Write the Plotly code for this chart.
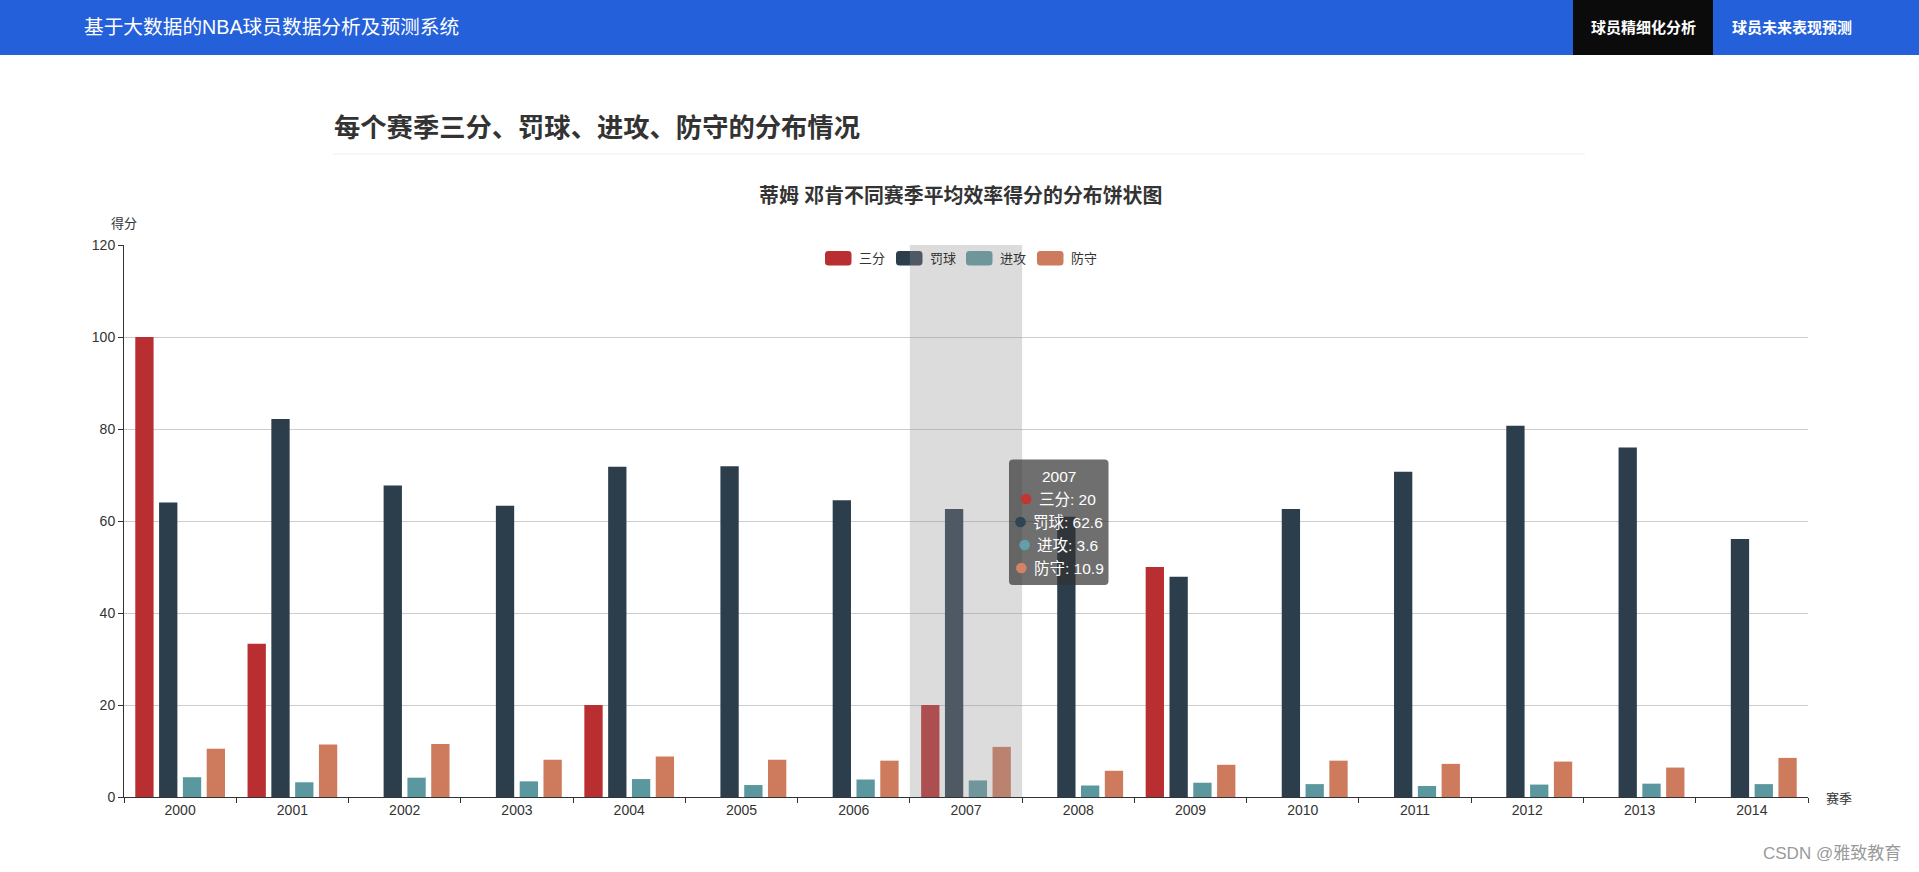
import plotly.graph_objects as go

# ---------------- data ----------------
seasons = [str(y) for y in range(2000, 2015)]
three_pt = [100, 33.3, 0, 0, 20, 0, 0, 20, 0, 50, 0, 0, 0, 0, 0]
free_throw = [64.0, 82.2, 67.7, 63.3, 71.8, 71.9, 64.5, 62.6, 60.9, 47.9, 62.6, 70.7, 80.7, 76.0, 56.1]
offense = [4.3, 3.2, 4.2, 3.4, 3.9, 2.6, 3.8, 3.6, 2.5, 3.1, 2.8, 2.4, 2.7, 2.9, 2.8]
defense = [10.5, 11.4, 11.5, 8.1, 8.8, 8.1, 7.9, 10.9, 5.7, 7.0, 7.9, 7.2, 7.7, 6.4, 8.5]
series_names = ["三分", "罚球", "进攻", "防守"]
series_values = [three_pt, free_throw, offense, defense]
series_colors = ["#B92E30", "#2C3D4B", "#5B979E", "#CD7A5D"]
tooltip_colors = ["#C23531", "#2F4554", "#61A0A8", "#D48265"]
hover_index = 7  # season shown in the tooltip (2007)

FONT = "Liberation Sans, Noto Sans CJK SC, sans-serif"
W, H = 1919, 872
L, R, T, B = 124, 111, 245, 75
PW, PH = W - L - R, H - T - B


def X(px):
    return (px - L) / PW


def Y(py):
    return (H - B - py) / PH


def rrect(x0, y0, x1, y1, r):
    pts = [
        ("M", [(x0 + r, y0)]), ("L", [(x1 - r, y0)]), ("Q", [(x1, y0), (x1, y0 + r)]),
        ("L", [(x1, y1 - r)]), ("Q", [(x1, y1), (x1 - r, y1)]), ("L", [(x0 + r, y1)]),
        ("Q", [(x0, y1), (x0, y1 - r)]), ("L", [(x0, y0 + r)]), ("Q", [(x0, y0), (x0 + r, y0)]),
    ]
    s = ""
    for cmd, ps in pts:
        s += cmd + " ".join(f"{X(a):.5f},{Y(b):.5f}" for a, b in ps) + " "
    return s + "Z"


fig = go.Figure()
for name, vals, col in zip(series_names, series_values, series_colors):
    fig.add_trace(go.Bar(x=seasons, y=vals, name=name, marker=dict(color=col, line=dict(width=0))))

shapes = []
annotations = []

# header bar
shapes.append(dict(type="rect", xref="paper", yref="paper", x0=X(0), x1=X(W), y0=Y(0), y1=Y(55),
                   fillcolor="#2460DA", line=dict(width=0), layer="below"))
shapes.append(dict(type="rect", xref="paper", yref="paper", x0=X(1573), x1=X(1713), y0=Y(0), y1=Y(55),
                   fillcolor="#0B0B0B", line=dict(width=0), layer="below"))
annotations.append(dict(xref="paper", yref="paper", x=X(82), y=Y(27), xanchor="left", yanchor="middle",
                        text="基于大数据的NBA球员数据分析及预测系统", showarrow=False,
                        font=dict(size=19.7, color="white", family=FONT)))
annotations.append(dict(xref="paper", yref="paper", x=X(1643), y=Y(27), xanchor="center", yanchor="middle",
                        text="<b>球员精细化分析</b>", showarrow=False,
                        font=dict(size=15, color="white", family=FONT)))
annotations.append(dict(xref="paper", yref="paper", x=X(1791.5), y=Y(27), xanchor="center", yanchor="middle",
                        text="<b>球员未来表现预测</b>", showarrow=False,
                        font=dict(size=15, color="white", family=FONT)))

# section heading + divider
annotations.append(dict(xref="paper", yref="paper", x=X(332), y=Y(128), xanchor="left", yanchor="middle",
                        text="<b>每个赛季三分、罚球、进攻、防守的分布情况</b>", showarrow=False,
                        font=dict(size=26.3, color="#333333", family=FONT)))
shapes.append(dict(type="line", xref="paper", yref="paper", x0=X(333), x1=X(1585), y0=Y(154), y1=Y(154),
                   line=dict(color="#EEEEEE", width=1)))

# chart title
annotations.append(dict(xref="paper", yref="paper", x=X(960), y=Y(195), xanchor="center", yanchor="middle",
                        text="<b>蒂姆 邓肯不同赛季平均效率得分的分布饼状图</b>", showarrow=False,
                        font=dict(size=19.9, color="#333333", family=FONT)))

# axis names
annotations.append(dict(xref="paper", yref="paper", x=X(124), y=Y(223), xanchor="center", yanchor="middle",
                        text="得分", showarrow=False, font=dict(size=13, color="#333333", family=FONT)))
annotations.append(dict(xref="paper", yref="paper", x=X(1824), y=Y(798), xanchor="left", yanchor="middle",
                        text="赛季", showarrow=False, font=dict(size=13, color="#333333", family=FONT)))

# legend (custom, echarts style)
leg_x = [825, 896, 966, 1037]
for lx, name, col in zip(leg_x, series_names, series_colors):
    shapes.append(dict(type="path", xref="paper", yref="paper", path=rrect(lx, 251, lx + 26.5, 265.5, 3.5),
                       fillcolor=col, line=dict(width=0)))
    annotations.append(dict(xref="paper", yref="paper", x=X(lx + 32), y=Y(258.5), xanchor="left",
                            yanchor="middle", text=name, showarrow=False,
                            font=dict(size=13, color="#333333", family=FONT)))

# axis-pointer shadow over hovered category
shapes.append(dict(type="rect", xref="x", yref="paper", x0=hover_index - 0.5, x1=hover_index + 0.5,
                   y0=0, y1=1, fillcolor="rgba(150,150,150,0.33)", line=dict(width=0), layer="above"))

# tooltip
shapes.append(dict(type="path", xref="paper", yref="paper", path=rrect(1009, 459.5, 1108.5, 585, 4),
                   fillcolor="rgba(50,50,50,0.7)", line=dict(width=0), layer="above"))
annotations.append(dict(xref="paper", yref="paper", x=X(1058.7), y=Y(476), xanchor="center",
                        yanchor="middle", text=seasons[hover_index], showarrow=False,
                        font=dict(size=15.5, color="white", family=FONT)))
dot_x = [1026.2, 1020.5, 1024.6, 1021.3]
for i, (n, v, c, dx) in enumerate(zip(series_names, series_values, tooltip_colors, dot_x)):
    cy = 499 + 23 * i
    shapes.append(dict(type="circle", xref="paper", yref="paper", x0=X(dx - 5.3), x1=X(dx + 5.3),
                       y0=Y(cy - 5.3), y1=Y(cy + 5.3), fillcolor=c, line=dict(width=0), layer="above"))
    annotations.append(dict(xref="paper", yref="paper", x=X(dx + 10.5), y=Y(cy), xanchor="left",
                            yanchor="middle", text=f"{n}: {v[hover_index]:g}", showarrow=False,
                            font=dict(size=15.5, color="white", family=FONT)))

# watermark
annotations.append(dict(xref="paper", yref="paper", x=X(1903), y=Y(853), xanchor="right", yanchor="middle",
                        text="CSDN @雅致教育", showarrow=False,
                        font=dict(size=17, color="rgba(140,140,140,0.9)", family=FONT)))

fig.update_layout(
    width=W, height=H,
    margin=dict(l=L, r=R, t=T, b=B, pad=0),
    paper_bgcolor="white", plot_bgcolor="white",
    barmode="group", bargap=0.152, bargroupgap=0.231,
    showlegend=False,
    font=dict(family=FONT, size=13, color="#333333"),
    shapes=shapes, annotations=annotations,
    xaxis=dict(type="category", range=[-0.5, 14.5], tickson="boundaries", ticks="outside", ticklen=5,
               tickcolor="#333333", showline=True, linecolor="#333333", linewidth=1, showgrid=False,
               tickfont=dict(size=14, color="#333333"), fixedrange=True),
    yaxis=dict(range=[0, 120], dtick=20, ticks="outside", ticklen=5, tickcolor="#333333", showline=True,
               linecolor="#333333", linewidth=1, gridcolor="#CCCCCC", zeroline=False,
               tickfont=dict(size=14, color="#333333"), fixedrange=True),
)

fig.write_html("out.html")
